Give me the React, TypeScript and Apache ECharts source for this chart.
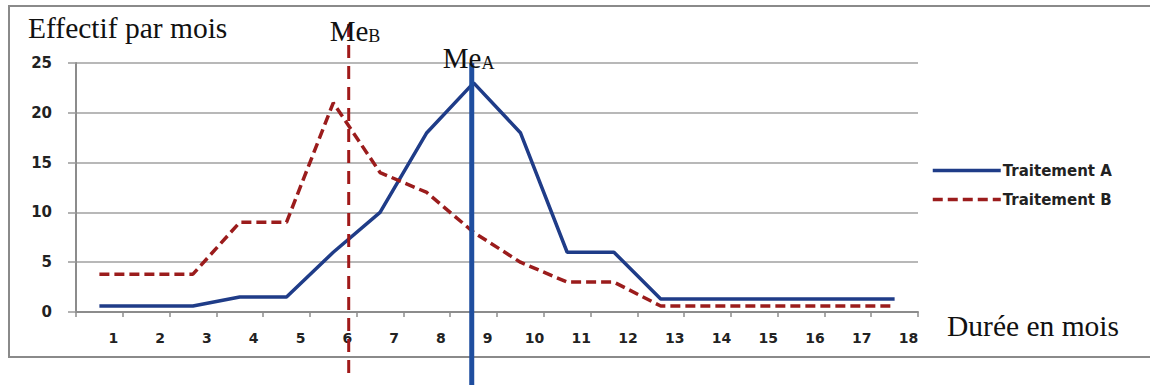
import React, { useEffect, useRef } from "react";
import * as echarts from "echarts";

const months = ["1", "2", "3", "4", "5", "6", "7", "8", "9", "10", "11", "12", "13", "14", "15", "16", "17", "18"];
const traitementA = [0.6, 0.6, 0.6, 1.5, 1.5, 6, 10, 18, 23, 18, 6, 6, 1.3, 1.3, 1.3, 1.3, 1.3, 1.3];
const traitementB = [3.8, 3.8, 3.8, 9, 9, 21, 14, 12, 8, 5, 3, 3, 0.6, 0.6, 0.6, 0.6, 0.6, 0.6];
const yTicks = [0, 5, 10, 15, 20, 25];
// medians, expressed on the duration scale (0 = left edge of the axis, 18 = right edge)
const medianA = 8.46;
const medianB = 5.83;

const serif = "'Liberation Serif', 'Times New Roman', serif";
const sans = "'DejaVu Sans', Verdana, sans-serif";
const colorA = "#1F3C88";
const colorB = "#9B1C1C";

export default function App() {
  const ref = useRef<HTMLDivElement>(null);
  useEffect(() => {
    if (!ref.current) return;
    const chart = echarts.init(ref.current, null, { renderer: "svg" });
    const option: any = {
      animation: false,
      backgroundColor: "#ffffff",
      grid: { left: 76, right: 232, top: 63, bottom: 73, containLabel: false },
      legend: {
        orient: "vertical",
        left: 926,
        top: 158,
        itemWidth: 68,
        itemHeight: 14,
        itemGap: 14,
        itemStyle: { opacity: 0 },
        lineStyle: { width: 3.5 },
        textStyle: { fontFamily: sans, fontWeight: "bold", fontSize: 15, color: "#222", padding: [0, 0, 0, -3] },
        data: ["Traitement A", "Traitement B"],
      },
      xAxis: [
        {
          type: "category",
          data: months,
          boundaryGap: true,
          axisLine: { lineStyle: { color: "#8c8c8c", width: 2 } },
          axisTick: { show: true, length: 5, lineStyle: { color: "#8c8c8c", width: 1.5 } },
          axisLabel: {
            fontFamily: sans,
            fontWeight: "bold",
            fontSize: 14,
            color: "#222",
            margin: 19,
            padding: [0, 0, 0, 28],
            interval: 0,
          },
          splitLine: { show: false },
        },
        { type: "value", min: 0, max: 18, show: false },
      ],
      yAxis: {
        type: "value",
        min: yTicks[0],
        max: yTicks[yTicks.length - 1],
        interval: 5,
        axisLine: { show: true, lineStyle: { color: "#8c8c8c", width: 2 } },
        axisTick: { show: true, length: 8, lineStyle: { color: "#999", width: 1.5 } },
        axisLabel: { fontFamily: sans, fontWeight: "bold", fontSize: 15, color: "#222", margin: 24 },
        splitLine: { show: true, lineStyle: { color: "#a0a0a0", width: 1.5 } },
      },
      series: [
        {
          name: "Traitement A",
          type: "line",
          data: traitementA,
          symbol: "none",
          lineStyle: { color: colorA, width: 3.5 },
          itemStyle: { color: colorA },
        },
        {
          name: "Traitement B",
          type: "line",
          data: traitementB,
          symbol: "none",
          lineStyle: { color: colorB, width: 3.5, type: [10, 5] },
          itemStyle: { color: colorB },
        },
      ],
    };
    chart.setOption(option);

    const xA = chart.convertToPixel({ xAxisIndex: 1 }, medianA) as number;
    const xB = chart.convertToPixel({ xAxisIndex: 1 }, medianB) as number;

    chart.setOption({
      graphic: [
        {
          type: "rect",
          shape: { x: 9, y: 6, width: 1160, height: 351 },
          style: { fill: "none", stroke: "#8a8a8a", lineWidth: 2 },
          z: 0,
        },
        {
          type: "text",
          left: 28,
          top: 13,
          style: { text: "Effectif par mois", font: `29.5px ${serif}`, fill: "#111" },
        },
        {
          type: "text",
          left: 947,
          top: 311,
          style: { text: "Durée en mois", font: `29.5px ${serif}`, fill: "#111" },
        },
        {
          type: "line",
          shape: { x1: xB, y1: 24, x2: xB, y2: 378 },
          style: { stroke: "#A01919", lineWidth: 3, lineDash: [13, 8] },
          z: 10,
        },
        {
          type: "line",
          shape: { x1: xA, y1: 63, x2: xA, y2: 385 },
          style: { stroke: "#1F4E9F", lineWidth: 5 },
          z: 10,
        },
        {
          type: "text",
          x: xB - 19,
          y: 16,
          z: 11,
          style: {
            text: "Me{s|B}",
            font: `29px ${serif}`,
            fill: "#111",
            rich: { s: { fontSize: 18, fontFamily: serif, verticalAlign: "bottom", fill: "#111" } },
          },
        },
        {
          type: "text",
          x: xA - 29,
          y: 43,
          z: 11,
          style: {
            text: "Me{s|A}",
            font: `29px ${serif}`,
            fill: "#111",
            rich: { s: { fontSize: 18, fontFamily: serif, verticalAlign: "bottom", fill: "#111" } },
          },
        },
      ],
    });

    return () => chart.dispose();
  }, []);
  return (
    <div
      ref={ref}
      style={{ position: "fixed", left: 0, top: 0, width: 1150, height: 385 }}
    />
  );
}
